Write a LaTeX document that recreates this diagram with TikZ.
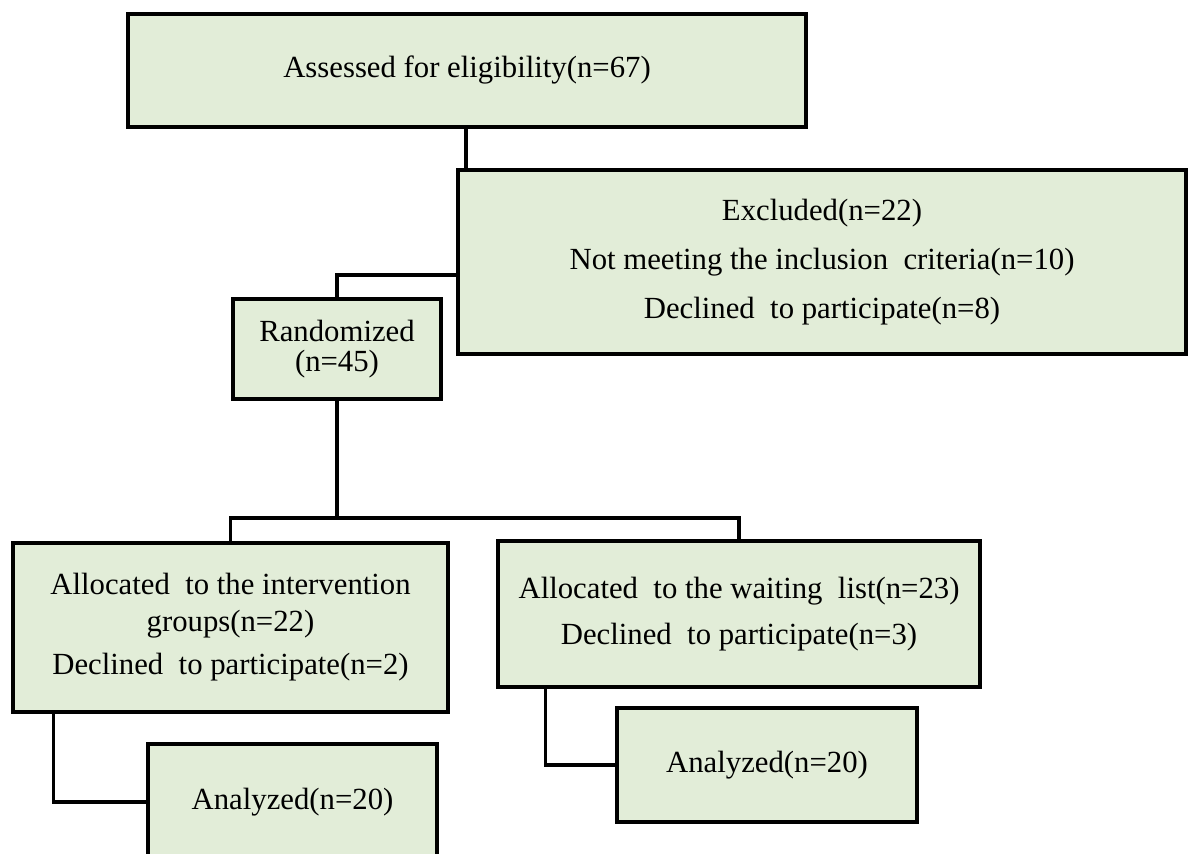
\documentclass[tikz,border=0pt]{standalone}
\usepackage{fontspec}
\setmainfont{Liberation Serif}
\usepackage{xcolor}
\usepackage{tikz}
\usetikzlibrary{positioning,calc}
\definecolor{boxgreen}{RGB}{226,237,216}

\begin{document}
\begin{tikzpicture}[x=0.02cm, y=-0.02cm,
    every node/.style={font=\fontsize{17.5}{20}\selectfont},
    flowbox/.style={draw, line width=1.9pt, fill=boxgreen, align=center, inner sep=0pt},
    link/.style={line width=1.9pt}]
    \useasboundingbox (0,0) rectangle (1188,854);
    \clip (0,0) rectangle (1188,854);

    \node[flowbox, minimum width=13.56cm, minimum height=2.26cm] (assessed) at (467,70.5) {Assessed for eligibility(n=67)};
    \node[flowbox, minimum width=14.56cm, minimum height=3.68cm] (excluded) at (822,262) {Excluded(n=22)\\[8pt] Not meeting the inclusion \ criteria(n=10)\\[8pt] Declined \ to participate(n=8)};
    \node[flowbox, minimum width=4.16cm, minimum height=2.0cm] (randomized) at (337,349) {Randomized\\[-3pt] (n=45)};
    \node[flowbox, minimum width=8.7cm, minimum height=3.38cm] (intervention) at (230.5,627.5) {Allocated \ to the intervention\\[1pt] groups(n=22)\\[4.5pt] Declined \ to participate(n=2)};
    \node[flowbox, minimum width=9.64cm, minimum height=2.92cm] (waiting) at (739,614) {Allocated \ to the waiting \ list(n=23)\\[6.5pt] Declined \ to participate(n=3)};
    \node[flowbox, minimum width=5.78cm, minimum height=2.32cm] (analyzedA) at (292.5,802) {Analyzed(n=20)};
    \node[flowbox, minimum width=6.0cm, minimum height=2.28cm] (analyzedB) at (767,765) {Analyzed(n=20)};

    \coordinate (split) at (337,518);
    \draw[link] (assessed.south -| 466,0) -- (excluded.north -| 466,0);
    \draw[link] ([yshift=-0.26cm]excluded.west) -| (randomized.north);
    \draw[link] (randomized.south) -- (split);
    \draw[link] (intervention.north) |- (split) -| (waiting.north);
    \draw[link] ([xshift=0.84cm]intervention.south west) |- (analyzedA.west);
    \draw[link] ([xshift=0.98cm]waiting.south west) |- (analyzedB.west);
\end{tikzpicture}
\end{document}
